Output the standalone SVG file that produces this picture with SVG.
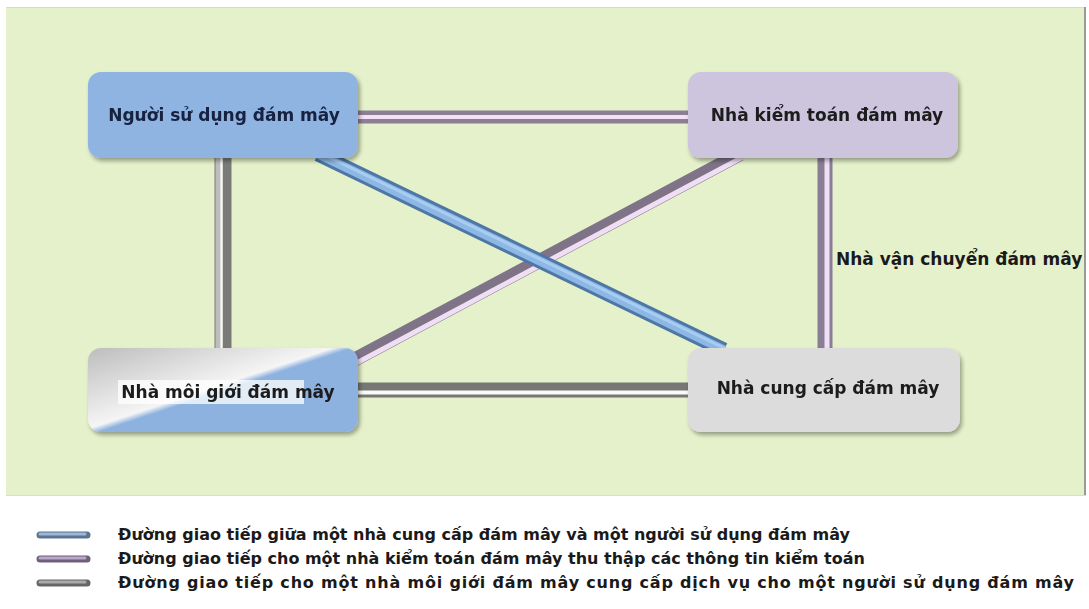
<svg xmlns="http://www.w3.org/2000/svg" width="1089" height="609" viewBox="0 0 1089 609">
<defs>
<style>
.lbl{font-family:"DejaVu Sans","Liberation Sans",sans-serif;font-weight:bold;font-size:17px;fill:#1a1a1a;text-anchor:middle}
.leg{font-family:"DejaVu Sans","Liberation Sans",sans-serif;font-weight:bold;font-size:16px;fill:#1a1a1a}
.c{fill:none;stroke-linecap:butt}
</style>
<linearGradient id="broker" x1="0" y1="0" x2="1" y2="0.94">
<stop offset="0" stop-color="#bdbdbd"/>
<stop offset="0.48" stop-color="#f5f5f5"/>
<stop offset="0.52" stop-color="#8db2e0"/>
<stop offset="1" stop-color="#8db2e0"/>
</linearGradient>
<filter id="sh" x="-10%" y="-10%" width="125%" height="130%">
<feGaussianBlur in="SourceAlpha" stdDeviation="2"/>
<feOffset dx="2" dy="3"/>
<feComponentTransfer><feFuncA type="linear" slope="0.35"/></feComponentTransfer>
<feMerge><feMergeNode/><feMergeNode in="SourceGraphic"/></feMerge>
</filter>
</defs>
<rect width="1089" height="609" fill="#ffffff"/>
<rect x="6" y="7" width="1080" height="489" fill="#e4f1ca"/>
<line x1="6" y1="7.5" x2="1086" y2="7.5" stroke="#d6dcc8" stroke-width="1"/>
<line x1="1085" y1="7" x2="1085" y2="496" stroke="#9a9a9a" stroke-width="2"/>
<line x1="6" y1="495.5" x2="1086" y2="495.5" stroke="#d8ddd0" stroke-width="1"/>

<g id="connectors">
<g>
<line class="c" x1="350" y1="117" x2="695" y2="117" stroke="#8c7f95" stroke-width="13"/>
<line class="c" x1="350" y1="117" x2="695" y2="117" stroke="#f2e2f6" stroke-width="4"/>
</g>
<g>
<line class="c" x1="223" y1="150" x2="223" y2="355" stroke="#7a7a78" stroke-width="17"/>
<line class="c" x1="218" y1="150" x2="218" y2="355" stroke="#bdbdbb" stroke-width="5"/>
<line class="c" x1="221.5" y1="150" x2="221.5" y2="355" stroke="#fafafa" stroke-width="2.5"/>
</g>
<g>
<line class="c" x1="825" y1="150" x2="825" y2="355" stroke="#8a7e95" stroke-width="15"/>
<line class="c" x1="827" y1="150" x2="827" y2="355" stroke="#efdff7" stroke-width="5"/>
</g>
<g>
<line class="c" x1="350" y1="390" x2="695" y2="390" stroke="#777774" stroke-width="15"/>
<line class="c" x1="350" y1="392.5" x2="695" y2="392.5" stroke="#fafafa" stroke-width="4"/>
</g>
<g>
<line class="c" x1="740" y1="154" x2="350" y2="362" stroke="#7f7388" stroke-width="14"/>
<line class="c" x1="742" y1="157.5" x2="352" y2="365.5" stroke="#f0def4" stroke-width="5"/>
</g>
<g>
<line class="c" x1="318" y1="154" x2="724" y2="350" stroke="#4e77a6" stroke-width="15"/>
<line class="c" x1="318" y1="154" x2="724" y2="350" stroke="#8db8e6" stroke-width="9"/>
<line class="c" x1="319" y1="152.5" x2="725" y2="348.5" stroke="#a9cdf0" stroke-width="3"/>
</g>
</g>

<g id="user" filter="url(#sh)">
<rect x="88" y="72" width="270" height="86" rx="13" fill="#8fb4e1"/>
<text class="lbl" x="224" y="121" style="fill:#14203f">Người sử dụng đám mây</text>
</g>
<g id="auditor" filter="url(#sh)">
<rect x="688" y="72" width="270" height="86" rx="13" fill="#cdc4de"/>
<text class="lbl" x="827" y="121">Nhà kiểm toán đám mây</text>
</g>
<g id="broker" filter="url(#sh)">
<rect x="88" y="348" width="270" height="84" rx="13" fill="url(#broker)"/>
<rect x="118" y="380" width="186" height="24" fill="#ffffff" fill-opacity="0.75"/>
<text class="lbl" x="228" y="398">Nhà môi giới đám mây</text>
</g>
<g id="provider" filter="url(#sh)">
<rect x="688" y="348" width="272" height="84" rx="13" fill="#dcdcdc"/>
<text class="lbl" x="828" y="394">Nhà cung cấp đám mây</text>
</g>
<g id="carrier-label">
<text class="lbl" x="836" y="265" style="text-anchor:start">Nhà vận chuyển đám mây</text>
</g>

<g id="legend">
<line x1="40" y1="535" x2="87" y2="535" stroke="#5d7390" stroke-width="7" stroke-linecap="round"/>
<line x1="40" y1="534" x2="85" y2="534" stroke="#9ab9da" stroke-width="3" stroke-linecap="round"/>
<line x1="40" y1="559" x2="87" y2="559" stroke="#6e5f7a" stroke-width="7" stroke-linecap="round"/>
<line x1="40" y1="558" x2="85" y2="558" stroke="#b8a8c8" stroke-width="3" stroke-linecap="round"/>
<line x1="40" y1="583" x2="87" y2="583" stroke="#666666" stroke-width="7" stroke-linecap="round"/>
<line x1="40" y1="582" x2="85" y2="582" stroke="#aaaaaa" stroke-width="3" stroke-linecap="round"/>
<text class="leg" x="118" y="540">Đường giao tiếp giữa một nhà cung cấp đám mây và một người sử dụng đám mây</text>
<text class="leg" x="118" y="564">Đường giao tiếp cho một nhà kiểm toán đám mây thu thập các thông tin kiểm toán</text>
<text class="leg" x="118" y="588" textLength="956" lengthAdjust="spacing">Đường giao tiếp cho một nhà môi giới đám mây cung cấp dịch vụ cho một người sử dụng đám mây</text>
</g>
</svg>
